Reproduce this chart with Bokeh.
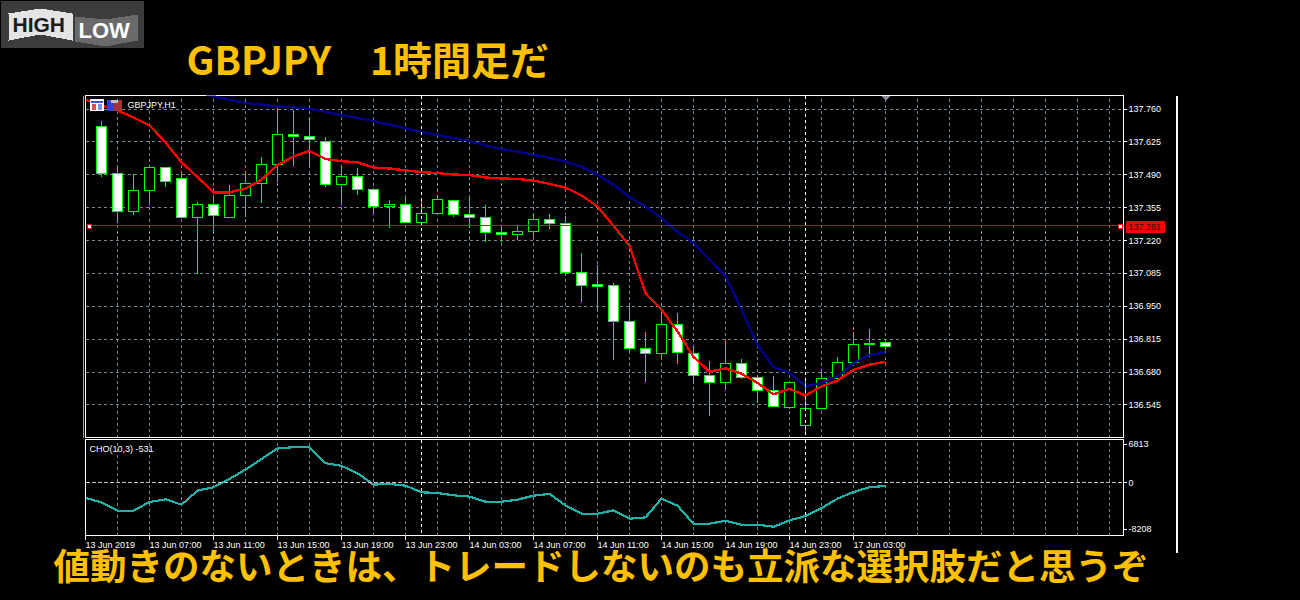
from bokeh.plotting import figure
from bokeh.layouts import column
from bokeh.models import (ColumnDataSource, Range1d, FixedTicker, LinearAxis, Grid, Label,
                          Span, PolyAnnotation, BoxAnnotation)
from bokeh.embed import file_html
from bokeh.resources import INLINE

# ---------- data ----------
opens = [137.689,137.497,137.341,137.427,137.522,137.473,137.316,137.366,137.316,137.405,
         137.456,137.534,137.657,137.649,137.627,137.452,137.485,137.431,137.358,137.368,
         137.296,137.329,137.386,137.325,137.316,137.251,137.243,137.259,137.308,137.288,
         137.087,137.041,137.037,136.889,136.778,136.758,136.877,136.758,136.664,136.635,
         136.713,136.659,136.602,136.536,136.462,136.532,136.655,136.717,136.793,136.803]
closes = [137.497,137.341,137.427,137.522,137.464,137.316,137.366,137.321,137.407,137.456,
          137.534,137.657,137.649,137.633,137.452,137.485,137.431,137.358,137.370,137.296,
          137.329,137.390,137.325,137.316,137.251,137.243,137.259,137.308,137.288,137.089,
          137.037,137.033,136.889,136.778,136.758,136.877,136.762,136.664,136.635,136.713,
          136.659,136.602,136.540,136.635,136.532,136.655,136.717,136.795,136.799,136.783]
highs = [137.712,137.524,137.493,137.527,137.524,137.501,137.379,137.404,137.449,137.501,
         137.564,137.764,137.757,137.723,137.645,137.527,137.518,137.437,137.387,137.399,
         137.386,137.408,137.386,137.399,137.366,137.281,137.281,137.329,137.330,137.322,
         137.169,137.121,137.045,136.963,136.844,136.936,136.922,136.785,136.726,136.813,
         136.735,136.668,136.665,136.641,136.655,136.685,136.740,136.844,136.858,136.803]
lows = [137.483,137.294,137.323,137.367,137.438,137.314,137.082,137.260,137.311,137.316,
        137.376,137.459,137.528,137.518,137.438,137.367,137.409,137.335,137.270,137.296,
        137.296,137.329,137.315,137.270,137.212,137.212,137.223,137.240,137.266,137.080,
        136.966,136.926,136.730,136.767,136.641,136.742,136.714,136.629,136.498,136.606,
        136.652,136.554,136.540,136.528,136.432,136.532,136.651,136.710,136.742,136.772]
red_ma = [137.798,137.775,137.754,137.726,137.693,137.623,137.541,137.481,137.418,137.418,
          137.433,137.470,137.530,137.565,137.588,137.555,137.546,137.541,137.520,137.516,
          137.508,137.501,137.497,137.491,137.489,137.479,137.475,137.473,137.466,137.453,
          137.437,137.405,137.360,137.281,137.199,137.004,136.936,136.847,136.742,136.681,
          136.695,136.673,136.635,136.588,136.611,136.583,136.621,136.645,136.689,136.710,136.722]
blue_ma = [137.829,137.813,137.798,137.785,137.778,137.771,137.767,137.761,137.749,137.735,
           137.724,137.711,137.696,137.681,137.666,137.653,137.641,137.629,137.611,137.596,
           137.585,137.572,137.560,137.544,137.523,137.490,137.449,137.399,137.359,137.312,
           137.255,137.211,137.141,137.075,136.936,136.792,136.700,136.678,136.621,136.635,
           136.662,136.717,136.751,136.760]
cho = [-2664,-3434,-4914,-4914,-3374,-2900,-3848,-1362,-770,710,2368,4262,6098,6334,6334,3493,
       3019,1717,-296,-178,-474,-1658,-1776,-2190,-2427,-3315,-3315,-2960,-2250,-1954,-3966,
       -5446,-5446,-4854,-6334,-6098,-2782,-4026,-7222,-7222,-6690,-7400,-7400,-7755,-6630,
       -5861,-4440,-2782,-1598,-770,-531]
price_ticks = [137.760,137.625,137.490,137.355,137.220,137.085,136.950,136.815,136.680,136.545]
cho_ticks = [6813, 0, -8208]
time_ticks = [-1,3,7,11,15,19,23,27,31,35,39,43,47]
time_labels = ["13 Jun 2019","13 Jun 07:00","13 Jun 11:00","13 Jun 15:00","13 Jun 19:00","13 Jun 23:00",
               "14 Jun 03:00","14 Jun 07:00","14 Jun 11:00","14 Jun 15:00","14 Jun 19:00","14 Jun 23:00",
               "17 Jun 03:00"]
grid_x = list(range(1, 64, 2))
day_separators = [20, 44]
current_price = 137.281
symbol_label = "GBPJPY,H1"
cho_label = "CHO(10,3) -531"
title_text = "GBPJPY\u30001時間足だ"
caption_text = "値動きのないときは、トレードしないのも立派な選択肢だと思うぞ"

# ---------- ranges ----------
x0 = -1.0
x1 = 63.875
PX = 16.0
SMALL = "Liberation Sans"
YELLOW = "#ffc000"
GRID = "#778899"

xs = list(range(len(opens)))
is_up = [c >= o for o, c in zip(opens, closes)]
up = ColumnDataSource(dict(x=[x for x, u in zip(xs, is_up) if u],
                           t=[max(o, c) for o, c, u in zip(opens, closes, is_up) if u],
                           b=[min(o, c) for o, c, u in zip(opens, closes, is_up) if u]))
down = ColumnDataSource(dict(x=[x for x, u in zip(xs, is_up) if not u],
                             t=[max(o, c) for o, c, u in zip(opens, closes, is_up) if not u],
                             b=[min(o, c) for o, c, u in zip(opens, closes, is_up) if not u]))


def base_fig(height, y_range, top, bottom):
    f = figure(width=1300, height=height, x_range=Range1d(x0, x1), y_range=y_range,
               output_backend="svg", toolbar_location=None, tools="",
               min_border_left=85, min_border_right=177, min_border_top=top, min_border_bottom=bottom,
               background_fill_color="black", border_fill_color="black", frame_align=False,
               outline_line_color="white", outline_line_width=1, x_axis_location=None, y_axis_location=None)
    f.grid.visible = False
    return f


def right_axis(f, ticks, labels):
    ax = LinearAxis(ticker=FixedTicker(ticks=ticks), major_label_overrides=dict(zip(ticks, labels)),
                    axis_line_color=None, major_tick_line_color="white", major_tick_in=0, major_tick_out=3,
                    minor_tick_line_color=None, major_label_standoff=2,
                    major_label_text_color="white", major_label_text_font=SMALL,
                    major_label_text_font_size="9px")
    f.add_layout(ax, "right")


def v_grid(f):
    f.add_layout(Grid(dimension=0, ticker=FixedTicker(ticks=grid_x), grid_line_color=GRID,
                      grid_line_dash="3 3", grid_line_width=1))
    for d in day_separators:
        f.add_layout(Span(location=d, dimension="height", line_color="white", line_dash="3 3", line_width=1))


# ---------- price pane ----------
p = base_fig(438, Range1d(136.411, 137.8157), 95, 1)
v_grid(p)
p.add_layout(Grid(dimension=1, ticker=FixedTicker(ticks=price_ticks), grid_line_color=GRID,
                  grid_line_dash="3 3", grid_line_width=1))
right_axis(p, price_ticks, [f"{t:.3f}" for t in price_ticks])
p.add_layout(Span(location=current_price, dimension="width", line_color="#e00000", line_width=1))
p.segment(xs, highs, xs, lows, line_color="#00ff00", line_width=1)
p.vbar("x", 0.625, "t", "b", source=up, fill_color="black", line_color="#00ff00", line_width=1)
p.vbar("x", 0.625, "t", "b", source=down, fill_color="white", line_color="#00ff00", line_width=1)
p.line(list(range(-1, 50)), red_ma, line_color="#ff0000", line_width=2.4)
p.line(list(range(6, 50)), blue_ma, line_color="#00008b", line_width=2.4)

# ---------- CHO pane ----------
c = base_fig(162, Range1d(-9307, 7691), 1, 65)
v_grid(c)
c.add_layout(Span(location=0, dimension="width", line_color="#c8c8c8", line_dash="4 2", line_width=1))
right_axis(c, cho_ticks, [str(t) for t in cho_ticks])
bottom = LinearAxis(ticker=FixedTicker(ticks=time_ticks), major_label_text_font_size="0px",
                    major_label_overrides={t: "" for t in time_ticks},
                    axis_line_color=None, major_tick_line_color="white", major_tick_in=0, major_tick_out=4,
                    minor_tick_line_color=None)
c.add_layout(bottom, "below")
c.line(list(range(-1, 50)), cho, line_color="#20b2aa", line_width=2.2)

# ---------- overlay with every text and mark outside the panes ----------
d0 = x0 - 85 / PX
d = figure(width=1300, height=600, x_range=Range1d(d0, d0 + 1300 / PX), y_range=Range1d(0, 1),
           output_backend="svg", toolbar_location=None, tools="", min_border=0, frame_align=False,
           min_border_left=0, min_border_right=0, min_border_top=0, min_border_bottom=0,
           background_fill_color=None, border_fill_color=None, outline_line_color=None,
           x_axis_location=None, y_axis_location=None, margin=(-600, 0, 0, 0))
d.grid.visible = False


def poly(px, py, color):
    d.add_layout(PolyAnnotation(xs=px, ys=py, xs_units="canvas", ys_units="canvas", fill_color=color,
                                fill_alpha=1, line_color=None))


def box(l, r, t, b, color):
    d.add_layout(BoxAnnotation(left=l, right=r, top=t, bottom=b, left_units="canvas", right_units="canvas",
                               top_units="canvas", bottom_units="canvas", fill_color=color, fill_alpha=1,
                               line_color=None))


def text(x, y, s, color, font=SMALL, size="9px", style="normal", xu="canvas"):
    d.add_layout(Label(x=x, y=y, x_units=xu, y_units="canvas", text=s, text_color=color, text_font=font,
                       text_font_size=size, text_font_style=style, text_baseline="middle"))


# current price markers and tag
for (l, r) in ((86, 91), (1117, 1122)):
    box(l, r, 223, 228, "#ff0000")
    box(l + 1, r - 1, 224, 227, "white")
box(1125, 1164, 220, 232, "#ff0000")
text(1128, 226, f"{current_price:.3f}", "#300000")

# logo
box(0, 143, 0, 47, "#3c3c3c")
poly([8, 40, 72, 72, 40, 8], [13, 8, 13, 40, 34, 40], "#e4e4e4")
poly([74, 105, 137, 137, 105, 74], [16, 19, 14, 40, 46, 41], "#6a6a6a")
text(12, 24, "HIGH", "#1c1c1c", size="21px", style="bold")
text(78, 30, "LOW", "white", size="22px", style="bold")

# chart icons and symbol
box(89, 103, 98, 110, "white")
box(90, 102, 100, 102, "#3a5ad0")
box(91, 95, 103, 109, "#e05050")
box(97, 101, 103, 109, "#8090e0")
box(106, 113, 99, 110, "#3040e0")
box(113, 121, 99, 110, "#b03030")
box(110, 117, 99, 102, "#c0c0c0")
text(127, 104.5, symbol_label, "white")
poly([880, 890, 885], [95, 95, 100], "#8a8a9a")

# chrome lines
box(82, 83, 95, 437, "#a0a0a0")
box(1175, 1177, 95, 552, "white")

# pane and axis texts
for t, lab in zip(time_ticks, time_labels):
    text(t, 544.5, lab, "white", xu="data")
text(89, 448, cho_label, "white")

# headline and caption
text(186, 57, title_text, YELLOW, font="Noto Sans CJK JP", size="39px", style="bold")
text(53, 564, caption_text, YELLOW, font="Noto Sans CJK JP", size="36.5px", style="bold")

page = column(p, c, d, spacing=0)
html = file_html(page, INLINE, title="GBPJPY H1")
html = html.replace("<head>", "<head><style>html,body{margin:0;padding:0;background:#000;overflow:hidden}</style>", 1)
crisp = """<script>
function crisp(root){root.querySelectorAll('*').forEach(function(e){
  if(e.shadowRoot) crisp(e.shadowRoot);
  if(e.tagName && e.tagName.toLowerCase()==='svg') e.setAttribute('shape-rendering','crispEdges');
});}
setInterval(function(){crisp(document);},100);
</script>"""
html = html.replace("</body>", crisp + "</body>", 1)
open("out.html", "w").write(html)
